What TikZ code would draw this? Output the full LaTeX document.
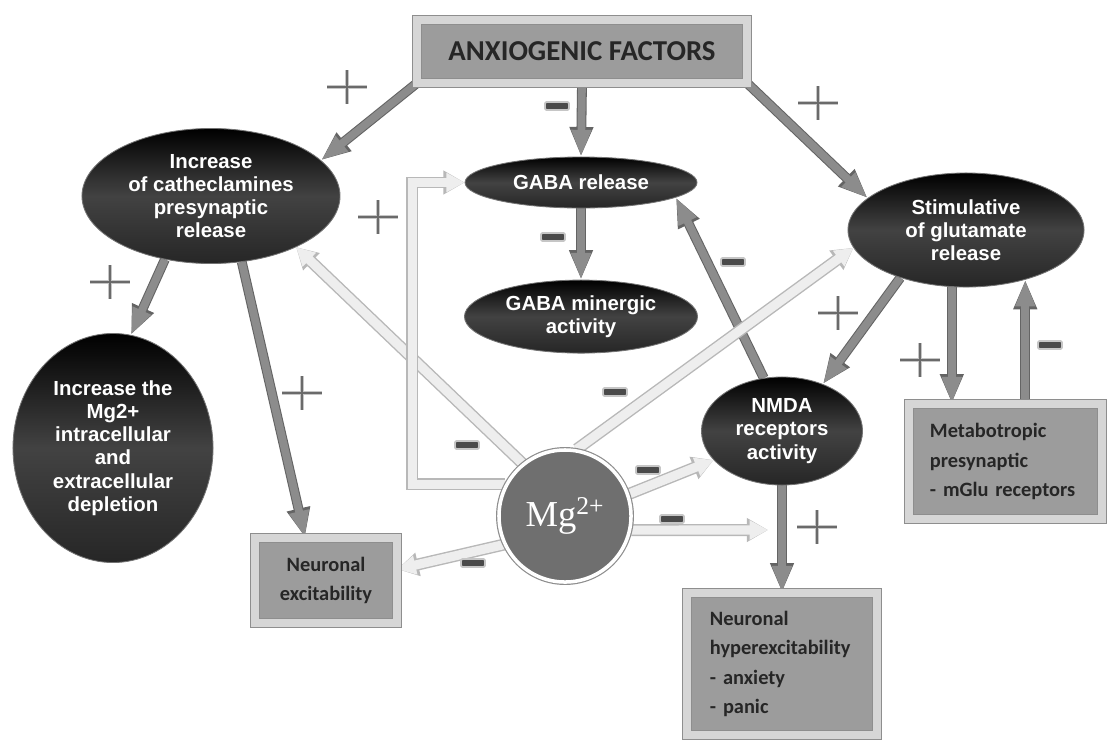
\documentclass[tikz,border=0pt]{standalone}
\usepackage{fontspec}
\newfontfamily\ellfont{Liberation Sans}
\newfontfamily\boxfont{Carlito}
\newfontfamily\ionfont{Liberation Serif}
\usetikzlibrary{arrows.meta, positioning, calc, backgrounds, shapes.geometric}
\definecolor{PanelGray}{HTML}{D6D6D6}
\definecolor{EdgeGray}{HTML}{8E8E8E}
\definecolor{BoxGray}{HTML}{9C9C9C}
\definecolor{ArrowGray}{HTML}{8C8C8C}
\definecolor{ArrowEdge}{HTML}{646464}
\definecolor{LightFill}{HTML}{EEEEEE}
\definecolor{LightEdge}{HTML}{B8B8B8}
\definecolor{MgGray}{HTML}{6F6F6F}
\definecolor{SignDark}{HTML}{4A4A4A}
\definecolor{SignGray}{HTML}{6A6A6A}
\tikzset{
  oval/.style={ellipse, draw=black!55, line width=0.6pt, top color=black, bottom color=black!85, middle color=black!74, inner sep=0pt, align=center, text=white, font=\ellfont\bfseries\fontsize{14.5}{16.5}\selectfont},
  panel/.style={rectangle, draw=EdgeGray, line width=0.6pt, double=PanelGray, double distance=6pt, fill=BoxGray, inner sep=0pt, align=center, text=black!85, font=\boxfont\bfseries\fontsize{14.5}{21}\selectfont},
  ion/.style={circle, fill=MgGray, draw=white, line width=2.5pt, minimum size=3.3cm, inner sep=0pt, text=white, font=\ionfont\fontsize{26}{30}\selectfont, preaction={draw=EdgeGray, line width=4.2pt}},
  darkarrow/.style={draw=ArrowGray, line width=5.5pt, -{Triangle[length=19pt,width=13pt]}, preaction={draw=ArrowEdge, line width=7pt, -{Triangle[length=21pt,width=15.5pt]}}},
  lightarrow/.style={draw=LightFill, line width=6.5pt, -{Triangle[length=13pt,width=13pt]}, preaction={draw=LightEdge, line width=8.5pt, -{Triangle[length=15pt,width=16pt]}}},
  plusmark/.pic={\draw[draw=SignGray, line width=0.8pt, preaction={draw=gray!45, line width=2.6pt}] (-20,0) -- (20,0) (0,-17) -- (0,17);},
  minusmark/.pic={\draw[fill=SignDark, draw=gray!45, line width=1.2pt, rounded corners=1pt] (-12,-4) rectangle (12,4);}
}
\begin{document}
\begin{tikzpicture}[x=0.025cm, y=-0.025cm]
\path[use as bounding box] (0,0) rectangle (1109,744);
\node[panel, minimum width=8.25cm, minimum height=1.575cm, font=\boxfont\bfseries\fontsize{20.5}{24}\selectfont] (anx) at (582,51.5) {ANXIOGENIC FACTORS};
\node[oval, minimum width=6.45cm, minimum height=3.375cm] (cat) at (211,196) {Increase\\of catheclamines\\presynaptic\\release};
\node[oval, minimum width=5cm, minimum height=5.725cm] (dep) at (113,448) {Increase the\\Mg2+\\intracellular\\and\\extracellular\\depletion};
\node[oval, minimum width=5.8cm, minimum height=1.275cm] (gabarel) at (581,182.5) {GABA release};
\node[oval, minimum width=5.825cm, minimum height=1.825cm, below=1.78cm of gabarel] (gabamin) {GABA minergic\\activity};
\node[oval, minimum width=5.9cm, minimum height=2.85cm] (glu) at (966,230) {Stimulative\\of glutamate\\release};
\node[oval, minimum width=4.025cm, minimum height=2.7cm] (nmda) at (782,431) {NMDA\\receptors\\activity};
\node[ion] (mg) at (565,516) {Mg\textsuperscript{2+}};
\node[panel, minimum width=3.55cm, minimum height=2.125cm] (neur) at (326,580.5) {Neuronal\\excitability};
\node[panel, minimum width=4.825cm, minimum height=2.875cm, text width=3.775cm, inner xsep=0.525cm, align=left] (meta) at (1005.5,461.5) {Metabotropic\\presynaptic\\- mGlu receptors};
\node[panel, minimum width=4.75cm, minimum height=3.55cm, text width=3.6cm, inner xsep=0.575cm, align=left] (hyper) at (782,664) {Neuronal\\hyperexcitability\\- anxiety\\- panic};
\coordinate (hyperin) at (768,530);
\begin{scope}[on background layer]
\fill[white] (0,0) rectangle (1109,744);
\draw[darkarrow] (anx.south west) -- (cat.18);
\draw[darkarrow] (anx.south) -- (gabarel.north);
\draw[darkarrow] (anx.south east) -- (glu.162);
\draw[darkarrow] (cat.234) -- (dep.81);
\draw[darkarrow] (cat.295) -- (neur.116);
\draw[darkarrow] (gabarel.south) -- (gabamin.north);
\draw[darkarrow] (nmda.109) -- (gabarel.351);
\draw[darkarrow] (glu.216) -- (nmda.49);
\draw[darkarrow] (glu.256) -- (glu.256 |- meta.north);
\draw[darkarrow] (meta.north -| glu.320) -- (glu.320);
\draw[darkarrow] (nmda.south) -- (hyper.north);
\draw[lightarrow] (mg.129) -- (cat.329);
\draw[lightarrow] (mg.152) -- ++(-93,0) |- (gabarel.west);
\draw[lightarrow] (mg.80) -- (glu.189);
\draw[lightarrow] (mg.19) -- (nmda.203);
\draw[lightarrow] (mg.348) -- (hyperin);
\draw[lightarrow] (mg.205) -- (neur.9);
\end{scope}
\pic at (347,87) {plusmark};
\pic at (378,217) {plusmark};
\pic at (110,282) {plusmark};
\pic at (302,393) {plusmark};
\pic at (818,103) {plusmark};
\pic at (838,313) {plusmark};
\pic at (920,360) {plusmark};
\pic at (817,527) {plusmark};
\pic at (557,106) {minusmark};
\pic at (553,237) {minusmark};
\pic at (733,262) {minusmark};
\pic at (615,392) {minusmark};
\pic at (467,445) {minusmark};
\pic at (648,470) {minusmark};
\pic at (672,519) {minusmark};
\pic at (473,563) {minusmark};
\pic at (1050,345) {minusmark};
\end{tikzpicture}
\end{document}
